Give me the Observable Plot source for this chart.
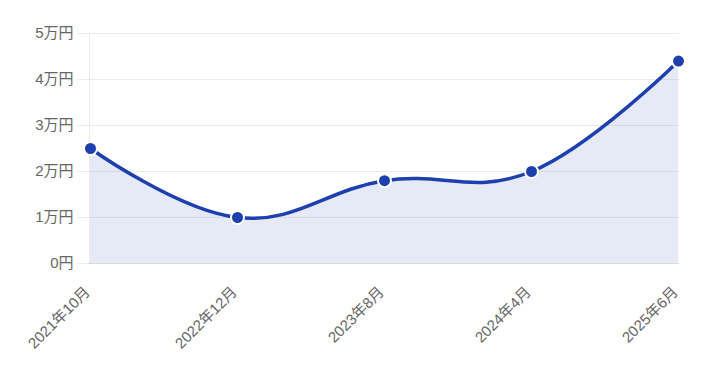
<!DOCTYPE html>
<html><head><meta charset="utf-8">
<script src="https://cdn.jsdelivr.net/npm/d3@7"></script>
<script src="https://cdn.jsdelivr.net/npm/@observablehq/plot@0.6"></script>
<style>
body{margin:0;background:#fff;}
#chart svg{display:block;}
</style>
</head><body><div id="chart"></div>
<script>
const periods = ["2021年10月", "2022年12月", "2023年8月", "2024年4月", "2025年6月"];
const amounts = [25000, 10000, 18000, 20000, 44000];
const yTicks = [0, 10000, 20000, 30000, 40000, 50000];

const data = periods.map((p, i) => ({period: p, amount: amounts[i]}));
const fmt = d => d === 0 ? "0円" : (d / 10000) + "万円";
const blue = "#1e40af";

const chart = Plot.plot({
  width: 709,
  height: 368,
  marginLeft: 89,
  marginRight: 30,
  marginTop: 33,
  marginBottom: 105,
  style: {fontFamily: "'Liberation Sans', 'Noto Sans CJK JP', sans-serif", fontSize: "15px", color: "#666", background: "#fff"},
  x: {type: "point", domain: periods, padding: 0},
  y: {domain: [0, 50000]},
  marks: [
    Plot.gridY(yTicks, {stroke: "#ebebeb", strokeOpacity: 1, insetLeft: -12}),
    Plot.ruleX([periods[0]], {stroke: "#ebebeb", dx: -1}),
    Plot.areaY(data, {x: "period", y: "amount", curve: "cardinal", tension: -0.2, fill: blue, fillOpacity: 0.11}),
    Plot.ruleY([0], {stroke: "#dcdcdc", insetLeft: -1}),
    Plot.lineY(data, {x: "period", y: "amount", curve: "cardinal", tension: -0.2, stroke: blue, strokeWidth: 3.5}),
    Plot.dot(data, {x: "period", y: "amount", r: 6.5, fill: blue, stroke: "#fff", strokeWidth: 2}),
    Plot.axisY(yTicks, {tickSize: 0, tickPadding: 16, tickFormat: fmt, label: null, fill: "#666", fontSize: 15}),
    Plot.axisX(periods, {tickSize: 0, tickRotate: -45, tickPadding: 6, dx: -3, dy: 20, label: null, fill: "#666", fontSize: 15})
  ]
});
document.getElementById("chart").append(chart);
</script>
</body></html>
